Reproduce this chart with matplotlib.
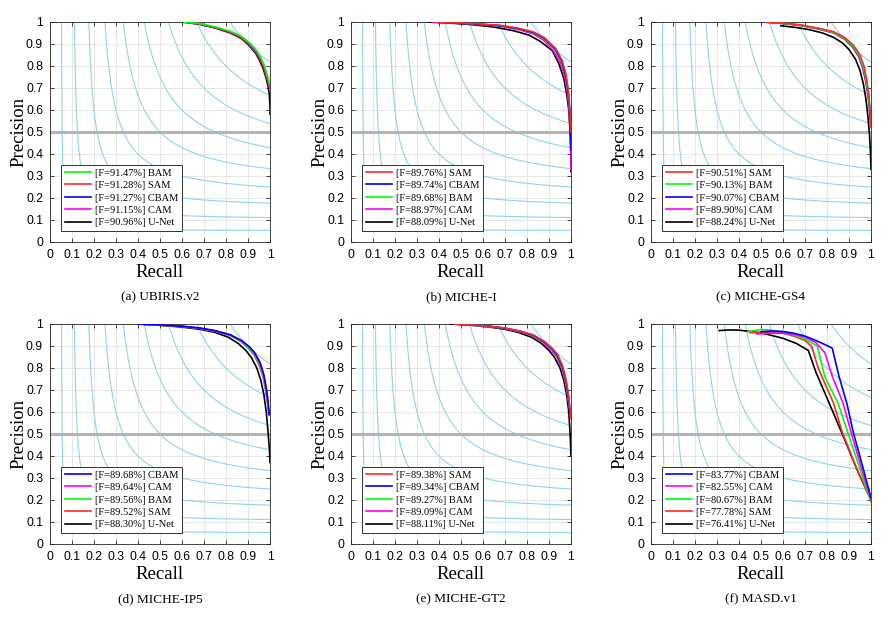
import numpy as np
import matplotlib
matplotlib.use("Agg")
import matplotlib.pyplot as plt

# dataset names / captions
captions = ["(a) UBIRIS.v2", "(b) MICHE-I", "(c) MICHE-GS4",
            "(d) MICHE-IP5", "(e) MICHE-GT2", "(f) MASD.v1"]

model_colors = {"BAM": "#00ff00", "SAM": "#ff2a2a", "CBAM": "#0000ff",
                "CAM": "#ff00ff", "U-Net": "#000000"}

# legend order and F-measure per panel
legend_a = [("BAM", "91.47"), ("SAM", "91.28"), ("CBAM", "91.27"), ("CAM", "91.15"), ("U-Net", "90.96")]
legend_b = [("SAM", "89.76"), ("CBAM", "89.74"), ("BAM", "89.68"), ("CAM", "88.97"), ("U-Net", "88.09")]
legend_c = [("SAM", "90.51"), ("BAM", "90.13"), ("CBAM", "90.07"), ("CAM", "89.90"), ("U-Net", "88.24")]
legend_d = [("CBAM", "89.68"), ("CAM", "89.64"), ("BAM", "89.56"), ("SAM", "89.52"), ("U-Net", "88.30")]
legend_e = [("SAM", "89.38"), ("CBAM", "89.34"), ("BAM", "89.27"), ("CAM", "89.09"), ("U-Net", "88.11")]
legend_f = [("CBAM", "83.77"), ("CAM", "82.55"), ("BAM", "80.67"), ("SAM", "77.78"), ("U-Net", "76.41")]

# PR curves (recall, precision)
pr_a = {
    "BAM": [(0.61, 1.0), (0.68, 0.993), (0.75, 0.978), (0.82, 0.958), (0.87, 0.935), (0.91, 0.903), (0.94, 0.87),
            (0.96, 0.835), (0.975, 0.8), (0.987, 0.76), (0.995, 0.73), (0.998, 0.715)],
    "SAM": [(0.61, 1.0), (0.68, 0.992), (0.75, 0.976), (0.82, 0.955), (0.87, 0.931), (0.91, 0.898), (0.94, 0.864),
            (0.958, 0.83), (0.973, 0.795), (0.985, 0.755), (0.994, 0.725), (0.998, 0.71)],
    "CBAM": [(0.61, 1.0), (0.68, 0.991), (0.75, 0.975), (0.82, 0.954), (0.87, 0.93), (0.91, 0.897), (0.94, 0.862),
             (0.957, 0.83), (0.972, 0.795), (0.985, 0.755), (0.994, 0.725), (0.998, 0.715)],
    "CAM": [(0.61, 1.0), (0.68, 0.99), (0.75, 0.974), (0.82, 0.952), (0.87, 0.928), (0.905, 0.897), (0.935, 0.862),
            (0.955, 0.83), (0.97, 0.795), (0.983, 0.755), (0.993, 0.72), (0.998, 0.7)],
    "U-Net": [(0.6, 1.0), (0.68, 0.99), (0.75, 0.973), (0.82, 0.95), (0.87, 0.925), (0.905, 0.893), (0.935, 0.857),
              (0.953, 0.825), (0.968, 0.79), (0.981, 0.75), (0.991, 0.71), (0.997, 0.67), (1.0, 0.62), (1.0, 0.58)],
}
pr_b = {
    "SAM": [(0.38, 1.0), (0.5, 0.996), (0.6, 0.99), (0.68, 0.985), (0.76, 0.972), (0.83, 0.955), (0.88, 0.928),
            (0.93, 0.88), (0.96, 0.825), (0.978, 0.76), (0.988, 0.69), (0.995, 0.6), (0.999, 0.53), (1.0, 0.5)],
    "CBAM": [(0.38, 1.0), (0.5, 0.995), (0.6, 0.989), (0.68, 0.983), (0.76, 0.97), (0.83, 0.952), (0.88, 0.925),
             (0.928, 0.878), (0.958, 0.822), (0.976, 0.757), (0.987, 0.685), (0.994, 0.6), (0.998, 0.5), (1.0, 0.42)],
    "BAM": [(0.38, 1.0), (0.5, 0.995), (0.6, 0.989), (0.68, 0.982), (0.76, 0.969), (0.83, 0.95), (0.88, 0.922),
            (0.927, 0.875), (0.957, 0.82), (0.975, 0.755), (0.986, 0.685), (0.994, 0.6), (0.999, 0.52)],
    "CAM": [(0.37, 1.0), (0.5, 0.994), (0.6, 0.987), (0.68, 0.98), (0.76, 0.966), (0.83, 0.945), (0.875, 0.918),
            (0.92, 0.87), (0.952, 0.815), (0.972, 0.75), (0.984, 0.68), (0.992, 0.6), (0.997, 0.5), (1.0, 0.4), (1.0, 0.33)],
    "U-Net": [(0.35, 1.0), (0.45, 0.995), (0.55, 0.988), (0.65, 0.977), (0.74, 0.96), (0.81, 0.94), (0.86, 0.912),
              (0.915, 0.87), (0.945, 0.81), (0.967, 0.745), (0.98, 0.675), (0.99, 0.6), (0.996, 0.5), (0.999, 0.4), (1.0, 0.32)],
}
pr_c = {
    "SAM": [(0.52, 1.0), (0.6, 0.995), (0.68, 0.987), (0.76, 0.972), (0.83, 0.956), (0.88, 0.93), (0.92, 0.895),
            (0.95, 0.85), (0.968, 0.8), (0.98, 0.74), (0.99, 0.67), (0.996, 0.59), (1.0, 0.52)],
    "BAM": [(0.52, 1.0), (0.6, 0.994), (0.68, 0.985), (0.76, 0.97), (0.83, 0.952), (0.88, 0.926), (0.918, 0.89),
            (0.947, 0.845), (0.965, 0.795), (0.978, 0.735), (0.988, 0.67), (0.995, 0.6)],
    "CBAM": [(0.5, 1.0), (0.6, 0.994), (0.68, 0.985), (0.76, 0.97), (0.83, 0.952), (0.88, 0.925), (0.917, 0.89),
             (0.946, 0.845), (0.964, 0.795), (0.977, 0.735), (0.988, 0.665), (0.995, 0.59), (0.999, 0.53)],
    "CAM": [(0.52, 1.0), (0.6, 0.993), (0.68, 0.984), (0.76, 0.968), (0.83, 0.95), (0.88, 0.922), (0.915, 0.887),
            (0.944, 0.842), (0.962, 0.79), (0.976, 0.73), (0.987, 0.66), (0.994, 0.6), (0.999, 0.55)],
    "U-Net": [(0.59, 0.983), (0.66, 0.975), (0.72, 0.965), (0.78, 0.95), (0.83, 0.93), (0.87, 0.905), (0.9, 0.875),
              (0.93, 0.83), (0.95, 0.78), (0.965, 0.72), (0.977, 0.65), (0.986, 0.57), (0.993, 0.49), (0.998, 0.4), (1.0, 0.33)],
}
pr_d = {
    "CBAM": [(0.4, 1.0), (0.5, 0.996), (0.6, 0.99), (0.68, 0.982), (0.75, 0.97), (0.82, 0.951), (0.87, 0.925),
             (0.905, 0.898), (0.93, 0.87), (0.955, 0.825), (0.972, 0.77), (0.983, 0.71), (0.991, 0.65), (0.996, 0.59)],
    "CAM": [(0.4, 1.0), (0.5, 0.996), (0.6, 0.99), (0.68, 0.981), (0.75, 0.969), (0.82, 0.95), (0.87, 0.923),
            (0.905, 0.895), (0.93, 0.866), (0.954, 0.82), (0.971, 0.765), (0.982, 0.705), (0.99, 0.645), (0.996, 0.585)],
    "BAM": [(0.4, 1.0), (0.5, 0.995), (0.6, 0.989), (0.68, 0.98), (0.75, 0.968), (0.82, 0.948), (0.87, 0.92),
            (0.903, 0.892), (0.928, 0.862), (0.952, 0.815), (0.97, 0.76), (0.981, 0.7), (0.99, 0.64), (0.995, 0.6)],
    "SAM": [(0.4, 1.0), (0.5, 0.995), (0.6, 0.989), (0.68, 0.98), (0.75, 0.967), (0.82, 0.947), (0.868, 0.92),
            (0.902, 0.89), (0.927, 0.86), (0.951, 0.812), (0.969, 0.757), (0.98, 0.698), (0.989, 0.64), (0.995, 0.6)],
    "U-Net": [(0.4, 1.0), (0.5, 0.994), (0.6, 0.986), (0.68, 0.976), (0.75, 0.962), (0.81, 0.94), (0.855, 0.912),
              (0.89, 0.88), (0.915, 0.848), (0.94, 0.8), (0.958, 0.745), (0.972, 0.68), (0.983, 0.6), (0.992, 0.5),
              (0.998, 0.42), (1.0, 0.37)],
}
pr_e = {
    "SAM": [(0.47, 1.0), (0.55, 0.996), (0.63, 0.99), (0.7, 0.982), (0.77, 0.968), (0.83, 0.95), (0.88, 0.92),
            (0.915, 0.89), (0.94, 0.86), (0.962, 0.81), (0.977, 0.75), (0.987, 0.69), (0.994, 0.63), (0.998, 0.57)],
    "CBAM": [(0.47, 1.0), (0.55, 0.996), (0.63, 0.99), (0.7, 0.981), (0.77, 0.967), (0.83, 0.948), (0.878, 0.918),
             (0.913, 0.888), (0.938, 0.857), (0.96, 0.807), (0.976, 0.747), (0.986, 0.685), (0.993, 0.625), (0.998, 0.575)],
    "BAM": [(0.47, 1.0), (0.55, 0.995), (0.63, 0.989), (0.7, 0.98), (0.77, 0.966), (0.83, 0.946), (0.877, 0.916),
            (0.912, 0.885), (0.937, 0.854), (0.959, 0.804), (0.975, 0.745), (0.985, 0.685), (0.992, 0.63), (0.997, 0.6)],
    "CAM": [(0.47, 1.0), (0.55, 0.995), (0.63, 0.988), (0.7, 0.979), (0.77, 0.964), (0.83, 0.944), (0.875, 0.914),
            (0.91, 0.882), (0.935, 0.85), (0.957, 0.8), (0.974, 0.74), (0.984, 0.68), (0.992, 0.625), (0.997, 0.59)],
    "U-Net": [(0.45, 1.0), (0.55, 0.994), (0.63, 0.986), (0.7, 0.976), (0.76, 0.962), (0.82, 0.94), (0.865, 0.912),
              (0.9, 0.88), (0.925, 0.848), (0.95, 0.8), (0.967, 0.745), (0.98, 0.68), (0.99, 0.6), (0.996, 0.5), (1.0, 0.4)],
}
pr_f = {
    "CBAM": [(0.5, 0.965), (0.55, 0.968), (0.6, 0.966), (0.65, 0.958), (0.7, 0.945), (0.75, 0.925), (0.8, 0.902),
             (0.824, 0.89), (0.855, 0.76), (0.89, 0.64), (0.92, 0.506), (0.96, 0.36), (1.0, 0.21)],
    "CAM": [(0.48, 0.955), (0.55, 0.958), (0.6, 0.96), (0.65, 0.953), (0.7, 0.94), (0.75, 0.915), (0.79, 0.87),
            (0.825, 0.76), (0.873, 0.64), (0.91, 0.506), (0.955, 0.35), (1.0, 0.2)],
    "BAM": [(0.44, 0.965), (0.5, 0.975), (0.55, 0.972), (0.6, 0.962), (0.65, 0.95), (0.7, 0.932), (0.756, 0.9),
            (0.79, 0.76), (0.85, 0.64), (0.895, 0.506), (0.95, 0.34), (1.0, 0.19)],
    "SAM": [(0.45, 0.96), (0.5, 0.962), (0.6, 0.958), (0.65, 0.945), (0.7, 0.925), (0.73, 0.9), (0.76, 0.8),
            (0.83, 0.64), (0.87, 0.506), (0.94, 0.33), (1.0, 0.2)],
    "U-Net": [(0.31, 0.97), (0.35, 0.973), (0.4, 0.972), (0.5, 0.96), (0.6, 0.935), (0.66, 0.912), (0.715, 0.88),
              (0.75, 0.78), (0.81, 0.64), (0.867, 0.506), (0.94, 0.33), (1.0, 0.2)],
}

panels = [(pr_a, legend_a), (pr_b, legend_b), (pr_c, legend_c),
          (pr_d, legend_d), (pr_e, legend_e), (pr_f, legend_f)]

ticks = np.round(np.arange(0, 1.01, 0.1), 1)
tick_labels = ["0"] + ["%.1f" % t for t in ticks[1:-1]] + ["1"]

fig = plt.figure(figsize=(8.94, 6.18), dpi=100)
serif = ["Liberation Serif", "DejaVu Serif"]
sans = ["Liberation Sans", "DejaVu Sans"]

# iso-F contour grid
rr, pp = np.meshgrid(np.linspace(0.001, 1, 400), np.linspace(0.001, 1, 400))
ff = 2 * rr * pp / (rr + pp)

lefts = [50, 351, 651]
tops = [22, 324]
W, H = 894.0, 618.0
for i, (pr, leg) in enumerate(panels):
    col, row = i % 3, i // 3
    l = lefts[col] / W
    b = (H - tops[row] - 220) / H
    ax = fig.add_axes([l, b, 220 / W, 220 / H])
    ax.contour(rr, pp, ff, levels=np.arange(0.1, 0.95, 0.1), colors="#8fd3f0", linewidths=0.8,
               linestyles="solid")
    ax.axhline(0.5, color="#b4b4b4", lw=2.2, zorder=2)
    # draw in reverse legend order so the best model sits on top
    for name, fval in leg[::-1]:
        pts = np.array(pr[name])
        ax.plot(pts[:, 0], pts[:, 1], color=model_colors[name], lw=1.2, zorder=3)
    handles = [plt.Line2D([], [], color=model_colors[n], lw=1.2) for n, _ in leg]
    labels = ["[F=%s%%] %s" % (f, n) for n, f in leg]
    lg = ax.legend(handles, labels, loc="lower left", bbox_to_anchor=(0.05, 0.05),
                   prop={"family": serif, "size": 7.5}, fancybox=False, framealpha=1,
                   edgecolor="#333333", borderpad=0.35, labelspacing=0.3, handlelength=2.5,
                   handletextpad=0.4, borderaxespad=0.0)
    lg.get_frame().set_linewidth(0.7)
    lg.set_zorder(5)
    ax.set_xlim(0, 1)
    ax.set_ylim(0, 1)
    ax.set_xticks(ticks)
    ax.set_yticks(ticks)
    ax.set_xticklabels(tick_labels, family=sans, fontsize=8.8)
    ax.set_yticklabels(tick_labels, family=sans, fontsize=8.8)
    ax.tick_params(direction="in", length=3, width=0.6, top=True, right=True, pad=5,
                   color="#262626")
    ax.grid(True, color="#e6e6e6", lw=0.7)
    ax.set_axisbelow(True)
    for s in ax.spines.values():
        s.set_color("#262626")
        s.set_linewidth(0.6)
    ax.set_xlabel("Recall", family=serif, fontsize=13.5, labelpad=2)
    ax.set_ylabel("Precision", family=serif, fontsize=13.5, labelpad=-1)
    cx = (lefts[col] + 110) / W
    cy = 1 - (tops[row] + 275) / H
    fig.text(cx, cy, captions[i], family=serif, fontsize=9.5, ha="center", va="center")

fig.savefig("out.png", dpi=100)
